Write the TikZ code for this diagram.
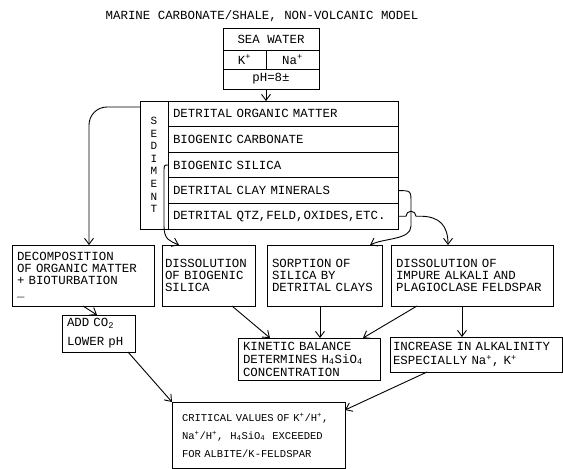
\documentclass[tikz,border=0pt]{standalone}
\usepackage{fontspec}
\setmonofont{Liberation Mono}
\usetikzlibrary{arrows.meta,positioning}
\newcommand\typefont{\ttfamily\fontsize{12.4}{12}\selectfont}
\newcommand\smalltype{\ttfamily\fontsize{10.5}{18}\selectfont}

\begin{document}
\begin{tikzpicture}[x=1pt,y=-1pt,
  box/.style={draw, line width=1pt, outer sep=0pt, anchor=north west,
    align=left, inner xsep=5pt, inner ysep=0pt, font=\typefont},
  cell/.style={draw, line width=1pt, outer sep=0pt, anchor=north west,
    inner sep=0pt, font=\typefont},
  row/.style={box, text width=220pt, minimum height=25.6pt},
  arr/.style={-{Straight Barb[length=6pt,width=9pt]}, line width=0.9pt}]

\useasboundingbox (0,0) rectangle (563,469);

\node[font=\typefont] (title) at (262,16) {MARINE CARBONATE/SHALE, NON-VOLCANIC MODEL};

% sea water
\node[cell, minimum width=96pt, minimum height=22pt] (sw) at (223,28) {SEA WATER};
\node[cell, minimum width=43pt, minimum height=19pt] (kion) at (sw.south west) {K\textsuperscript{+}};
\node[cell, minimum width=53pt, minimum height=19pt] (naion) at (kion.north east) {Na\textsuperscript{+}};
\node[cell, minimum width=96pt, minimum height=20pt] (ph) at (kion.south west) {pH=8±};

% sediment
\node[row] (r1) at (168,101) {DETRITAL ORGANIC MATTER};
\node[row, below=0pt of r1] (r2) {BIOGENIC CARBONATE};
\node[row, below=0pt of r2] (r3) {BIOGENIC SILICA};
\node[row, below=0pt of r3] (r4) {DETRITAL CLAY MINERALS};
\node[row, below=0pt of r4] (r5) {DETRITAL QTZ,FELD,OXIDES,ETC.};
\node[draw, line width=1pt, outer sep=0pt, anchor=north east, minimum width=28pt,
  minimum height=128pt, inner sep=0pt, align=center,
  font=\ttfamily\fontsize{11}{12.6}\selectfont] (sedcol) at (r1.north west) {S\\E\\D\\I\\M\\E\\N\\T};

% processes
\node[box, text width=132pt, minimum height=61pt] (deco) at (12,245) {DECOMPOSITION\\OF ORGANIC MATTER\\+ BIOTURBATION\\\_};
\node[box, inner xsep=3pt, text width=87pt, minimum height=61pt] (disbio) at (162,245) {DISSOLUTION\\OF BIOGENIC\\SILICA};
\node[box, text width=105pt, minimum height=61pt] (sorp) at (267,245) {SORPTION OF\\SILICA BY\\DETRITAL CLAYS};
\node[box, text width=152pt, minimum height=61pt] (disimp) at (391,245) {DISSOLUTION OF\\IMPURE ALKALI AND\\PLAGIOCLASE FELDSPAR};
\node[box, text width=63pt, minimum height=37pt, font=\ttfamily\fontsize{12.4}{19}\selectfont] (addco) at (62,315) {ADD CO\textsubscript{2}\\LOWER pH};
\node[box, text width=132pt, minimum height=42pt, font=\ttfamily\fontsize{12.4}{13}\selectfont] (kin) at (238,338) {KINETIC BALANCE\\DETERMINES H\textsubscript{4}SiO\textsubscript{4}\\CONCENTRATION};
\node[box, inner xsep=3pt, text width=166pt, minimum height=35pt, font=\ttfamily\fontsize{12.4}{14.5}\selectfont] (inc) at (390,337) {INCREASE IN ALKALINITY\\ESPECIALLY Na\textsuperscript{+}, K\textsuperscript{+}};
\node[box, inner xsep=10pt, text width=153pt, minimum height=66pt, font=\smalltype] (crit) at (172,402) {CRITICAL VALUES OF K\textsuperscript{+}/H\textsuperscript{+},\\Na\textsuperscript{+}/H\textsuperscript{+},~~H\textsubscript{4}SiO\textsubscript{4}~~EXCEEDED\\FOR ALBITE/K-FELDSPAR};

% connectors
\draw[arr] (ph.south -| kion.east) -- (r1.north -| kion.east);
\draw[arr, rounded corners=18pt] ([yshift=-6pt]sedcol.north west) -| ([xshift=77pt]deco.north west);
\draw[arr] (r3.west) .. controls (164,165) .. (164,173) -- (164,226) .. controls (164,240) and (170,241) .. ([xshift=17pt]disbio.north west);
\draw[arr] (r4.east) .. controls (411,190.6) .. (411,203) -- (411,226) .. controls (411,240) and (384,238) .. ([xshift=103pt]sorp.north west);
\draw[arr] (r5.east) -- ++(8pt,0) arc[start angle=180, end angle=0, radius=5pt] -- ++(4pt,0) .. controls (440,216.2) and (448,226) .. ([xshift=57pt]disimp.north west);
\draw[arr] (deco.south) -- ([xshift=35pt]addco.north west);
\draw[arr] ([xshift=-7pt]addco.south east) -- (crit.north west);
\draw[arr] ([xshift=70pt]disbio.south west) -- ([xshift=32pt]kin.north west);
\draw[arr] ([xshift=53pt]sorp.south west) -- ([xshift=53pt]sorp.south west |- kin.north);
\draw[arr] ([xshift=26pt]disimp.south west) -- ([xshift=-17pt]kin.north east);
\draw[arr] ([xshift=71pt]disimp.south west) -- ([xshift=71pt]disimp.south west |- inc.north);
\draw[arr] ([xshift=37pt]inc.south west) -- ([yshift=-8pt]crit.north east);
\end{tikzpicture}
\end{document}
